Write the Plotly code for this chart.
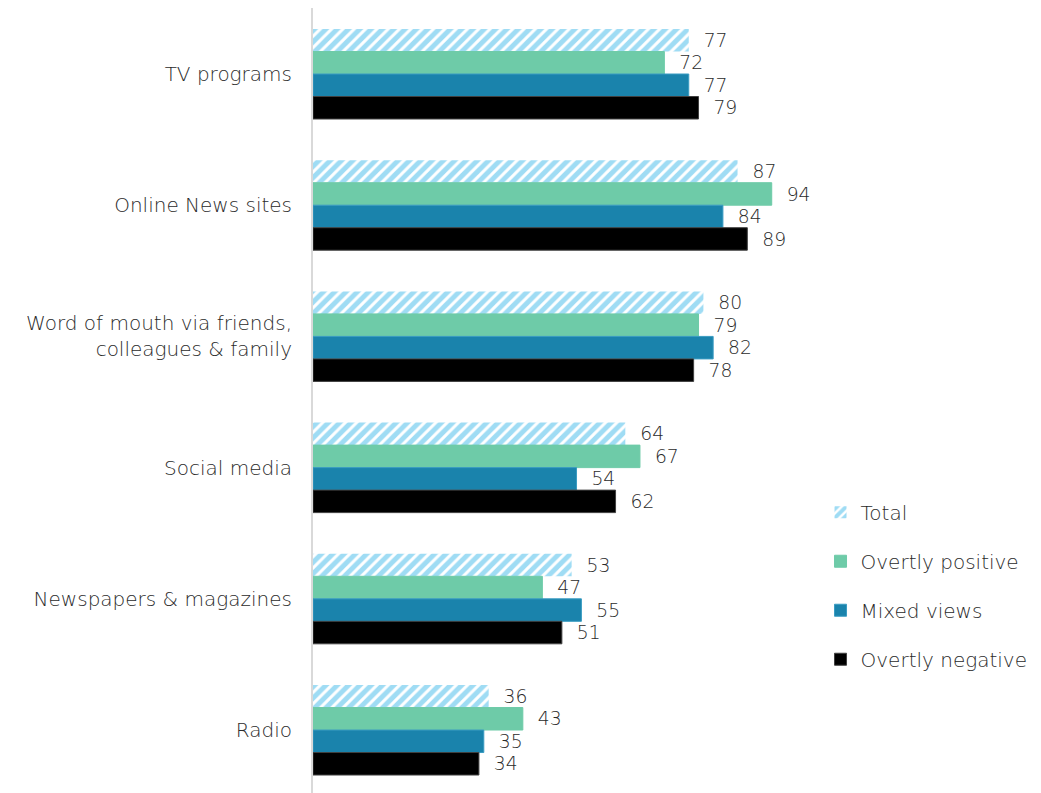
import plotly.graph_objects as go

categories = [
    "TV programs",
    "Online News sites",
    "Word of mouth via friends,<br>colleagues & family",
    "Social media",
    "Newspapers & magazines",
    "Radio",
]
series_names = ["Total", "Overtly positive", "Mixed views", "Overtly negative"]
total = [77, 87, 80, 64, 53, 36]
overtly_positive = [72, 94, 79, 67, 47, 43]
mixed_views = [77, 84, 82, 54, 55, 35]
overtly_negative = [79, 89, 78, 62, 51, 34]

series_values = [total, overtly_positive, mixed_views, overtly_negative]
fills = ["#3fb9ea", "#6ecba8", "#1a83ac", "#000000"]
edges = ["rgba(0,0,0,0)", "#6ecba8", "#3a9cc2", "#404040"]

FONT = "'DejaVu Sans', sans-serif"
TEXT_COLOR = "#2b2b2b"

fig = go.Figure()
for i, (name, vals) in enumerate(zip(series_names, series_values)):
    marker = dict(color=fills[i], line=dict(color=edges[i], width=1))
    if i == 0:
        # hatched "Total" bars
        marker = dict(
            color="white",
            line=dict(color="rgba(0,0,0,0)", width=0),
            pattern=dict(shape="/", fgcolor=fills[0], bgcolor="white",
                         size=8, solidity=0.62, fillmode="overlay"),
        )
    fig.add_trace(go.Bar(
        y=categories,
        x=vals,
        name=name,
        orientation="h",
        marker=marker,
        text=vals,
        texttemplate="\u00a0\u00a0%{x}",
        textposition="outside",
        cliponaxis=False,
        textfont=dict(family=FONT, size=20, color=TEXT_COLOR, weight=300),
        legendgroup=name,
    ))

fig.update_layout(
    width=1041,
    height=793,
    barmode="group",
    bargap=0.314,
    bargroupgap=0,
    plot_bgcolor="white",
    paper_bgcolor="white",
    margin=dict(l=313, r=240, t=8, b=0, autoexpand=False),
    font=dict(family=FONT, size=20, color=TEXT_COLOR, weight=300),
    xaxis=dict(range=[0, 100], visible=False, showgrid=False, zeroline=False),
    yaxis=dict(
        range=[5.48, -0.503],
        showgrid=False,
        zeroline=False,
        showline=True,
        linecolor="#d9d9d9",
        linewidth=2,
        ticks="",
        ticklabelstandoff=15,
        tickfont=dict(family=FONT, size=20, color=TEXT_COLOR, weight=300),
        automargin=False,
    ),
    legend=dict(
        x=1.04, xanchor="left",
        y=0.3825, yanchor="top",
        traceorder="grouped",
        tracegroupgap=20,
        itemwidth=30,
        font=dict(family=FONT, size=20, color=TEXT_COLOR, weight=300),
        bgcolor="rgba(0,0,0,0)",
    ),
)

fig.write_html("out.html")
